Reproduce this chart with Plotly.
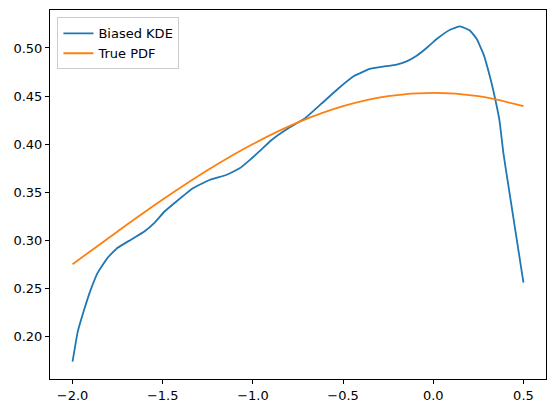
import plotly.graph_objects as go

# Biased KDE curve
kde_x = [-2.0, -1.972, -1.935, -1.898, -1.861, -1.806, -1.75, -1.676, -1.602, -1.546,
         -1.49, -1.426, -1.333, -1.241, -1.148, -1.074, -1.018, -0.963, -0.898, -0.806,
         -0.713, -0.62, -0.528, -0.435, -0.407, -0.352, -0.278, -0.203, -0.148, -0.092,
         -0.037, 0.019, 0.093, 0.148, 0.204, 0.241, 0.278, 0.315, 0.343, 0.367,
         0.389, 0.426, 0.463, 0.5]
kde_y = [0.1735, 0.204, 0.228, 0.249, 0.266, 0.2816, 0.292, 0.3005, 0.309, 0.318,
         0.3298, 0.340, 0.354, 0.3626, 0.3678, 0.3747, 0.3833, 0.3926, 0.404, 0.4162,
         0.4265, 0.442, 0.4576, 0.4713, 0.4737, 0.4783, 0.4806, 0.4827, 0.4861, 0.492,
         0.500, 0.5093, 0.519, 0.5224, 0.518, 0.5093, 0.4938, 0.4696, 0.4472, 0.4247,
         0.3903, 0.3453, 0.3005, 0.2557]

# True PDF curve
pdf_x = [-2.0, -1.75, -1.5, -1.25, -1.0, -0.75, -0.5, -0.25, 0.0, 0.25, 0.5]
pdf_y = [0.2749, 0.3091, 0.3422, 0.3729, 0.4000, 0.4225, 0.4394, 0.4498, 0.4533, 0.4498, 0.4394]

x_ticks = [-2.0, -1.5, -1.0, -0.5, 0.0, 0.5]
x_labels = ["\u22122.0", "\u22121.5", "\u22121.0", "\u22120.5", "0.0", "0.5"]
y_ticks = [0.20, 0.25, 0.30, 0.35, 0.40, 0.45, 0.50]
y_labels = ["0.20", "0.25", "0.30", "0.35", "0.40", "0.45", "0.50"]

FONT = dict(family="DejaVu Sans", size=13, color="black")

fig = go.Figure()
fig.add_trace(go.Scatter(x=kde_x, y=kde_y, mode="lines", name="Biased KDE",
                         line=dict(color="#1f77b4", width=1.8, shape="spline", smoothing=0.35)))
fig.add_trace(go.Scatter(x=pdf_x, y=pdf_y, mode="lines", name="True PDF",
                         line=dict(color="#ff7f0e", width=1.8, shape="spline", smoothing=1.0)))

axis_common = dict(showgrid=False, zeroline=False, showline=True, linecolor="black",
                   linewidth=1, mirror=True, ticks="outside", ticklen=4, tickwidth=1,
                   tickcolor="black", tickfont=FONT)

fig.update_xaxes(range=[-2.125, 0.625], tickvals=x_ticks, ticktext=x_labels, **axis_common)
fig.update_yaxes(range=[0.1555, 0.5395], tickvals=y_ticks, ticktext=y_labels, **axis_common)

fig.update_layout(
    width=556, height=413,
    margin=dict(l=50, r=10, t=10, b=34),
    plot_bgcolor="white", paper_bgcolor="white",
    font=FONT,
    legend=dict(x=0.015, y=0.98, xanchor="left", yanchor="top",
                bgcolor="rgba(255,255,255,0.8)", bordercolor="#cccccc", borderwidth=1,
                font=FONT, tracegroupgap=0),
    showlegend=True,
)

fig.write_html("out.html")
